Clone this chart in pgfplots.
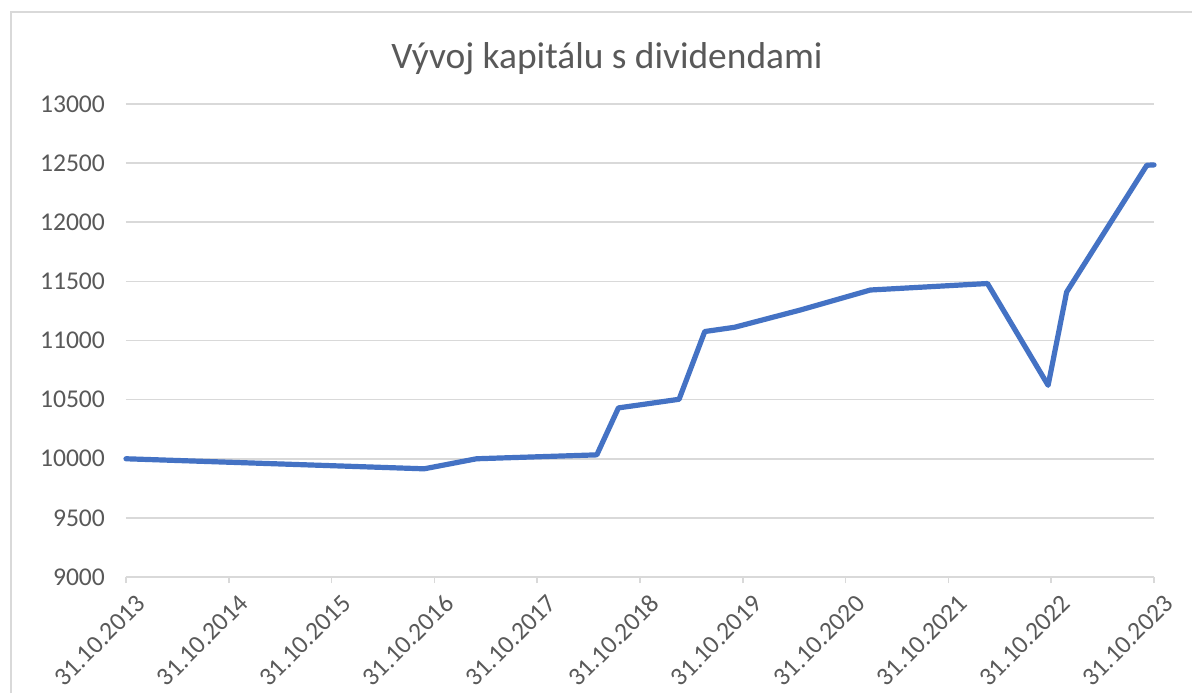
\documentclass[border=0pt]{standalone}
\usepackage{pgfplots}
\pgfplotsset{compat=1.18}
\usepackage{fontspec}
\setmainfont{Carlito}
\definecolor{exblue}{RGB}{68,114,196}
\definecolor{exgrid}{RGB}{217,217,217}
\definecolor{extext}{RGB}{89,89,89}
\begin{document}
\begin{tikzpicture}[x=1pt,y=1pt]
\useasboundingbox (0,0) rectangle (596,346.5);
\fill[white] (0,0) rectangle (596,346.5);
\draw[exgrid, line width=0.8pt] (5.5,0) -- (5.5,340.5) -- (596,340.5);
\node[text=extext, font=\fontsize{18.7}{22}\selectfont] at (303.5,317) {Vývoj kapitálu s dividendami};
\begin{axis}[
  at={(63pt,58pt)}, anchor=origin,
  scale only axis, width=514pt, height=236.5pt,
  xmin=0, xmax=10, ymin=9000, ymax=13000,
  ytick={9000,9500,...,13000},
  xtick={0,1,...,10},
  xticklabels={31.10.2013,31.10.2014,31.10.2015,31.10.2016,31.10.2017,31.10.2018,31.10.2019,31.10.2020,31.10.2021,31.10.2022,31.10.2023},
  scaled y ticks=false,
  yticklabel style={/pgf/number format/fixed, /pgf/number format/precision=0},
  /pgf/number format/assume math mode=true,
  /pgf/number format/set thousands separator={},
  ymajorgrids, grid style={exgrid, line width=0.8pt},
  axis x line*=bottom, axis y line*=left,
  x axis line style={exgrid, line width=0.8pt, -},
  y axis line style={draw=none},
  xtick style={exgrid, line width=0.8pt},
  xtick align=outside, major tick length=3pt,
  ytick style={draw=none},
  tick label style={text=extext, font=\fontsize{12.8}{15}\selectfont},
  xticklabel style={rotate=45, anchor=east, yshift=-11pt, xshift=3pt},
  yticklabel style={anchor=east, xshift=-7pt},
  clip=false,
]
\addplot[exblue, line width=2.6pt, line join=round, line cap=round] coordinates {
(0,10000) (2.90,9915) (3.41,10000) (4.58,10033) (4.79,10430) (5.38,10503)
(5.63,11076) (5.92,11112) (6.56,11258) (7.24,11427) (8.38,11482)
(8.97,10621) (9.15,11410) (9.93,12482) (10.0,12485)
};
\end{axis}
\end{tikzpicture}
\end{document}
